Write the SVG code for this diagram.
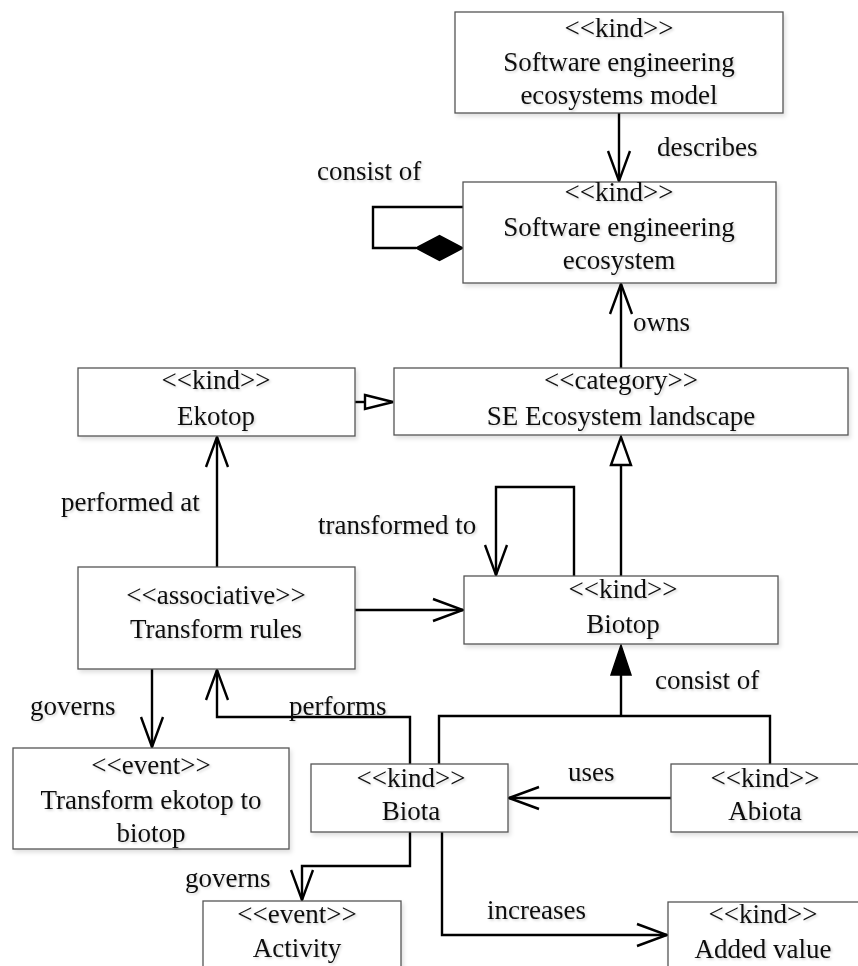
<svg xmlns="http://www.w3.org/2000/svg" width="858" height="966" viewBox="0 0 858 966">
<style>
.box{fill:#fff;stroke:#555;stroke-width:1.3}
.t{font-family:"Liberation Serif","Times New Roman",serif;font-size:27px;fill:#111;text-anchor:middle}
.l{font-family:"Liberation Serif","Times New Roman",serif;font-size:27px;fill:#111}
.c{fill:none;stroke:#000;stroke-width:2.4}
.open{fill:#fff;stroke:#000;stroke-width:2.4}
.solid{fill:#000;stroke:#000;stroke-width:1.5}
</style>
<defs>
<filter id="sh" x="-5%" y="-5%" width="115%" height="125%">
<feDropShadow dx="2" dy="3" stdDeviation="2" flood-color="#000" flood-opacity="0.12"/>
</filter>
<filter id="tsh" x="-5%" y="-20%" width="115%" height="150%">
<feDropShadow dx="1.5" dy="1.5" stdDeviation="1.2" flood-color="#000" flood-opacity="0.18"/>
</filter>
<marker id="arr" markerUnits="userSpaceOnUse" viewBox="-32 -13 34 26" refX="0" refY="0" markerWidth="34" markerHeight="26" orient="auto">
<path d="M-30,-11 L0,0 L-30,11" fill="none" stroke="#000" stroke-width="2.4"/>
</marker>
</defs>
<rect width="858" height="966" fill="#fff"/>

<g id="connectors">
<line class="c" x1="619" y1="113" x2="619" y2="181" marker-end="url(#arr)"/>
<polyline class="c" points="463,207 373,207 373,248 416,248"/>
<polygon class="solid" points="416,248 439.5,235.5 463,248 439.5,260.5"/>
<line class="c" x1="621" y1="368" x2="621" y2="284" marker-end="url(#arr)"/>
<line class="c" x1="355" y1="402" x2="365" y2="402"/>
<polygon class="open" points="365,395 393,402 365,409"/>
<line class="c" x1="217" y1="567" x2="217" y2="437" marker-end="url(#arr)"/>
<line class="c" x1="355" y1="610" x2="463" y2="610" marker-end="url(#arr)"/>
<line class="c" x1="621" y1="576" x2="621" y2="465"/>
<polygon class="open" points="611,465 621,437 631,465"/>
<polyline class="c" points="574,576 574,487 496,487 496,575" marker-end="url(#arr)"/>
<polyline class="c" points="439,764 439,716 770,716 770,764"/>
<line class="c" x1="621" y1="716" x2="621" y2="675"/>
<polygon class="solid" points="611,675 621,645 631,675"/>
<polyline class="c" points="410,764 410,717 217,717 217,670" marker-end="url(#arr)"/>
<line class="c" x1="152" y1="669" x2="152" y2="747" marker-end="url(#arr)"/>
<line class="c" x1="671" y1="798" x2="509" y2="798" marker-end="url(#arr)"/>
<polyline class="c" points="410,832 410,866 302,866 302,900" marker-end="url(#arr)"/>
<polyline class="c" points="442,832 442,935 667,935" marker-end="url(#arr)"/>
</g>

<g id="labels" filter="url(#tsh)">
<text class="l" x="657" y="156">describes</text>
<text class="l" x="317" y="180">consist of</text>
<text class="l" x="633" y="331">owns</text>
<text class="l" x="61" y="511">performed at</text>
<text class="l" x="318" y="534">transformed to</text>
<text class="l" x="655" y="689">consist of</text>
<text class="l" x="30" y="715">governs</text>
<text class="l" x="289" y="715">performs</text>
<text class="l" x="568" y="781">uses</text>
<text class="l" x="185" y="887">governs</text>
<text class="l" x="487" y="919">increases</text>
</g>

<g id="n-model">
<rect class="box" x="455" y="12" width="328" height="101" filter="url(#sh)"/>
<g filter="url(#tsh)"><text class="t" x="619" y="37">&lt;&lt;kind&gt;&gt;</text>
<text class="t" x="619" y="71">Software engineering</text>
<text class="t" x="619" y="104">ecosystems model</text></g>
</g>
<g id="n-ecosystem">
<rect class="box" x="463" y="182" width="313" height="101" filter="url(#sh)"/>
<g filter="url(#tsh)"><text class="t" x="619" y="201">&lt;&lt;kind&gt;&gt;</text>
<text class="t" x="619" y="236">Software engineering</text>
<text class="t" x="619" y="269">ecosystem</text></g>
</g>
<g id="n-ekotop">
<rect class="box" x="78" y="368" width="277" height="68" filter="url(#sh)"/>
<g filter="url(#tsh)"><text class="t" x="216" y="389">&lt;&lt;kind&gt;&gt;</text>
<text class="t" x="216" y="425">Ekotop</text></g>
</g>
<g id="n-landscape">
<rect class="box" x="394" y="368" width="454" height="67" filter="url(#sh)"/>
<g filter="url(#tsh)"><text class="t" x="621" y="389">&lt;&lt;category&gt;&gt;</text>
<text class="t" x="621" y="425">SE Ecosystem landscape</text></g>
</g>
<g id="n-rules">
<rect class="box" x="78" y="567" width="277" height="102" filter="url(#sh)"/>
<g filter="url(#tsh)"><text class="t" x="216" y="604">&lt;&lt;associative&gt;&gt;</text>
<text class="t" x="216" y="638">Transform rules</text></g>
</g>
<g id="n-biotop">
<rect class="box" x="464" y="576" width="314" height="68" filter="url(#sh)"/>
<g filter="url(#tsh)"><text class="t" x="623" y="598">&lt;&lt;kind&gt;&gt;</text>
<text class="t" x="623" y="633">Biotop</text></g>
</g>
<g id="n-transform">
<rect class="box" x="13" y="748" width="276" height="101" filter="url(#sh)"/>
<g filter="url(#tsh)"><text class="t" x="151" y="774">&lt;&lt;event&gt;&gt;</text>
<text class="t" x="151" y="809">Transform ekotop to</text>
<text class="t" x="151" y="842">biotop</text></g>
</g>
<g id="n-biota">
<rect class="box" x="311" y="764" width="197" height="68" filter="url(#sh)"/>
<g filter="url(#tsh)"><text class="t" x="411" y="787">&lt;&lt;kind&gt;&gt;</text>
<text class="t" x="411" y="820">Biota</text></g>
</g>
<g id="n-abiota">
<rect class="box" x="671" y="764" width="200" height="68" filter="url(#sh)"/>
<g filter="url(#tsh)"><text class="t" x="765" y="787">&lt;&lt;kind&gt;&gt;</text>
<text class="t" x="765" y="820">Abiota</text></g>
</g>
<g id="n-activity">
<rect class="box" x="203" y="901" width="198" height="80" filter="url(#sh)"/>
<g filter="url(#tsh)"><text class="t" x="297" y="923">&lt;&lt;event&gt;&gt;</text>
<text class="t" x="297" y="957">Activity</text></g>
</g>
<g id="n-added">
<rect class="box" x="668" y="902" width="200" height="80" filter="url(#sh)"/>
<g filter="url(#tsh)"><text class="t" x="763" y="923">&lt;&lt;kind&gt;&gt;</text>
<text class="t" x="763" y="958">Added value</text></g>
</g>
</svg>
